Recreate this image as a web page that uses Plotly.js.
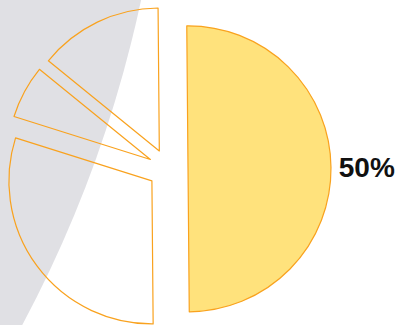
<!DOCTYPE html>
<html>
<head>
<meta charset="utf-8">
<script src="https://cdn.plot.ly/plotly-3.0.1.min.js"></script>
<style>
html, body { margin: 0; padding: 0; overflow: hidden; background: #ffffff; }
#chart { width: 396px; height: 338px; }
</style>
</head>
<body>
<div id="chart"></div>
<script>
// Data
const categories = ['A', 'B', 'C', 'D'];
const values = [50, 30, 6, 14];
const labelPositions = ['outside', 'none', 'none', 'none'];

// Layout constants (pixels)
const W = 396, H = 338;
const M = { l: 0, r: 60, t: 6, b: 6 };
const plotW = W - M.l - M.r, plotH = H - M.t - M.b;
function px2x(px) { return (px - M.l) / plotW; }
function py2y(py) { return 1 - (py - M.t) / plotH; }
// big grey background disc
const bg = { cx: -1063, cy: -256, r: 1231 };

const trace = {
  type: 'pie',
  labels: categories,
  values: values,
  sort: false,
  direction: 'clockwise',
  rotation: -0.5,
  pull: 0.14,
  textinfo: 'percent',
  textposition: labelPositions,
  outsidetextfont: { family: 'Liberation Sans, Arial, sans-serif', size: 28, color: '#111111', weight: 'bold' },
  marker: {
    colors: ['#FFE27C', 'rgba(0,0,0,0)', 'rgba(0,0,0,0)', 'rgba(0,0,0,0)'],
    line: { color: '#F9A21E', width: 1.2 }
  },
  showlegend: false,
  hoverinfo: 'none'
};

const layout = {
  width: W,
  height: H,
  margin: M,
  paper_bgcolor: '#ffffff',
  plot_bgcolor: '#ffffff',
  showlegend: false,
  shapes: [{
    type: 'circle',
    xref: 'paper', yref: 'paper',
    x0: px2x(bg.cx - bg.r), x1: px2x(bg.cx + bg.r),
    y0: py2y(bg.cy + bg.r), y1: py2y(bg.cy - bg.r),
    fillcolor: 'rgb(224,224,228)',
    line: { width: 0 },
    layer: 'below'
  }]
};

Plotly.newPlot('chart', [trace], layout, { displayModeBar: false, staticPlot: true });
</script>
</body>
</html>
